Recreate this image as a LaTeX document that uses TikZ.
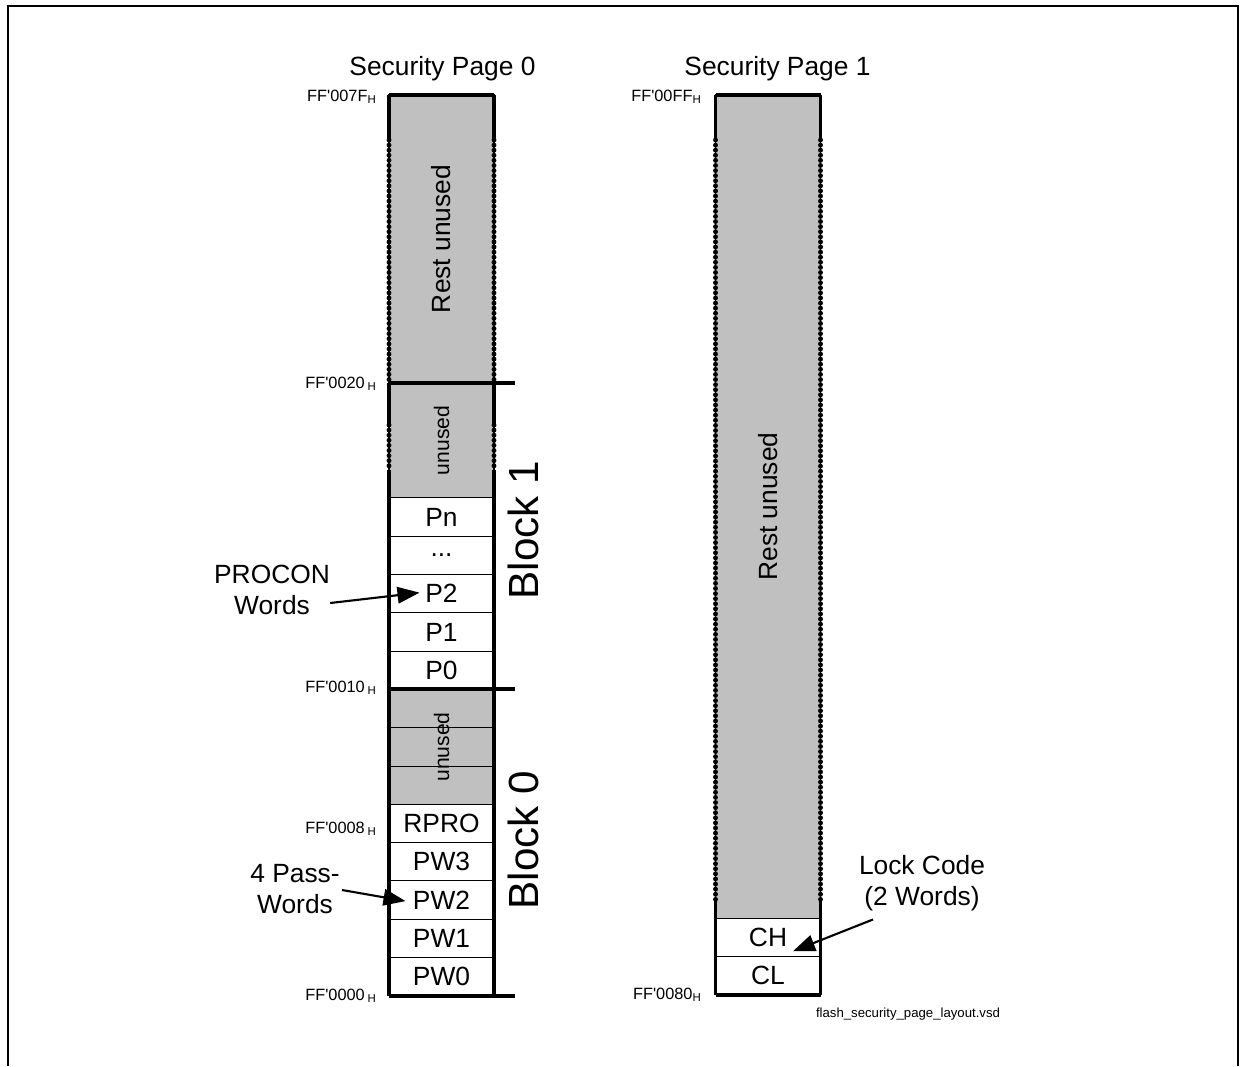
\documentclass[tikz,border=0pt]{standalone}
\usepackage{fontspec}
\setmainfont{Liberation Sans}
\newfontfamily\addrface{Liberation Sans}
\usetikzlibrary{positioning,calc,arrows.meta}
\definecolor{unusedgray}{RGB}{192,192,192}

\tikzset{
	cell/.style={draw, line width=0.6pt, minimum width=21mm, minimum height=7.66mm,
		inner sep=0pt, outer sep=0pt, font=\fontsize{15}{18}\selectfont},
	unusedcell/.style={cell, fill=unusedgray},
	colborder/.style={line width=2.2pt},
	dotborder/.style={line width=2.8pt, line cap=round, dash pattern=on 0pt off 2.9pt},
	addr/.style={anchor=east, inner sep=0pt, font=\addrface\fontsize{9.3}{11}\selectfont},
	note/.style={align=center, inner sep=0pt, font=\fontsize{15}{18}\selectfont},
	pagetitle/.style={inner sep=0pt, font=\fontsize{15}{18}\selectfont},
	blocklabel/.style={rotate=90, inner sep=0pt, font=\fontsize{24}{28}\selectfont},
	pointer/.style={-{Triangle[length=4.4mm,width=3.3mm]}, line width=1.2pt}
}

\begin{document}
\begin{tikzpicture}[x=0.2mm,y=-0.2mm]
\useasboundingbox (0,0) rectangle (1242,1066);
\draw[line width=1.6pt] (8,1066) -- (8,6) -- (1238,6) -- (1238,1066);

% security page 0
\node[unusedcell, minimum height=57.6mm] (rest0) at (441.5,239) {};
\node[unusedcell, minimum height=22.98mm, below=0pt of rest0] (unused1) {};
\node[cell, below=0pt of unused1] (pn) {Pn};
\node[cell, below=0pt of pn] (pdots) {...};
\node[cell, below=0pt of pdots] (p2) {P2};
\node[cell, below=0pt of p2] (p1) {P1};
\node[cell, below=0pt of p1] (p0) {P0};
\node[unusedcell, below=0pt of p0] (g1) {};
\node[unusedcell, below=0pt of g1] (g2) {};
\node[unusedcell, below=0pt of g2] (g3) {};
\node[cell, below=0pt of g3] (rpro) {RPRO};
\node[cell, below=0pt of rpro] (pw3) {PW3};
\node[cell, below=0pt of pw3] (pw2) {PW2};
\node[cell, below=0pt of pw2] (pw1) {PW1};
\node[cell, below=0pt of pw1] (pw0) {PW0};

\node[rotate=90, font=\fontsize{15}{18}\selectfont] (rest0txt) at (rest0) {Rest unused};
\node[rotate=90, font=\fontsize{12}{14}\selectfont] (unused1txt) at (unused1) {unused};
\node[rotate=90, font=\fontsize{12}{14}\selectfont] (unused0txt) at (g2) {unused};

% security page 1
\node[unusedcell, minimum height=164.6mm] (rest1) at (768,506.5) {};
\node[cell, below=0pt of rest1] (ch) {CH};
\node[cell, below=0pt of ch] (cl) {CL};
\node[rotate=90, font=\fontsize{15}{18}\selectfont] (rest1txt) at (rest1) {Rest unused};

% column borders
\draw[colborder] (rest0.north west) -- (rest0.north east);
\draw[colborder] (rest1.north west) -- (rest1.north east);
\foreach \s in {west,east}{
	\draw[colborder] (rest0.north \s) -- ++(0,45);
	\draw[dotborder] ($(rest0.north \s)+(0,45)$) -- (rest0.south \s);
	\draw[colborder] (unused1.north \s) -- ++(0,42);
	\draw[dotborder] ($(unused1.north \s)+(0,42)$) -- ++(0,45);
	\draw[colborder] ($(unused1.north \s)+(0,87)$) -- (pw0.south \s);
	\draw[colborder] (rest1.north \s) -- ++(0,45);
	\draw[dotborder] ($(rest1.north \s)+(0,45)$) -- ($(rest1.south \s)+(0,-18)$);
	\draw[colborder] ($(rest1.south \s)+(0,-18)$) -- (cl.south \s);
}
\draw[colborder] (rest0.south west) -- ++(126,0);
\draw[colborder] (p0.south west) -- ++(126,0);
\draw[colborder] (pw0.south west) -- ++(126,0);
\draw[colborder] (cl.south west) -- (cl.south east);

% titles and block names
\node[pagetitle] (page0) at (442.5,69) {Security Page 0};
\node[pagetitle] (page1) at (777.5,69) {Security Page 1};
\node[blocklabel] (block1) at (523,530) {Block 1};
\node[blocklabel] (block0) at (523,840) {Block 0};

% addresses
\node[addr] (a007f) at (377,97) {FF'007F\textsubscript{H}};
\node[addr] (a0020) at (377,384) {FF'0020\,\textsubscript{H}};
\node[addr] (a0010) at (377,688) {FF'0010\,\textsubscript{H}};
\node[addr] (a0008) at (377,829) {FF'0008\,\textsubscript{H}};
\node[addr] (a0000) at (377,996) {FF'0000\,\textsubscript{H}};
\node[addr] (a00ff) at (702,97) {FF'00FF\textsubscript{H}};
\node[addr] (a0080) at (702,995) {FF'0080\textsubscript{H}};

% notes
\node[note] (procon) at (272,590) {PROCON\\Words};
\node[note] (passwords) at (295,889) {4 Pass-\\Words};
\node[note] (lockcode) at (922,883) {Lock Code\\(2 Words)};
\coordinate (proconend) at ($(p2.center)+(-22,-1)$);
\coordinate (passend) at ($(pw2.center)+(-36,1)$);
\coordinate (lockend) at ($(ch.center)+(25,14)$);
\draw[pointer] ($(procon.east)+(0,13)$) -- (proconend);
\draw[pointer] ($(passwords.east)+(2,1)$) -- (passend);
\draw[pointer] ($(lockcode.south)+(-49,8)$) -- (lockend);

\node[font=\fontsize{7.5}{9}\selectfont] (vsdname) at (908,1014) {flash\_security\_page\_layout.vsd};
\end{tikzpicture}
\end{document}
